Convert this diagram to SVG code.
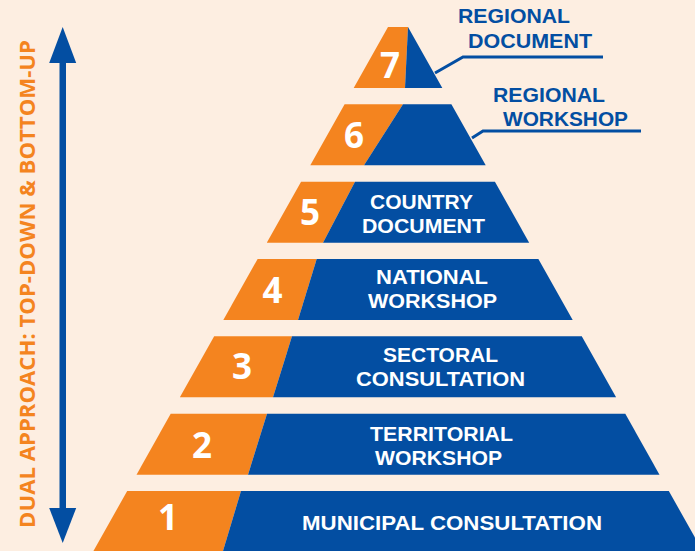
<svg xmlns="http://www.w3.org/2000/svg" width="695" height="551" viewBox="0 0 695 551">
<style>
.o{fill:#F4841F}
.b{fill:#034EA2}
.num{font-family:"Open Sans","DejaVu Sans",sans-serif;font-weight:700;font-size:35px;fill:#fff;text-anchor:middle}
.lbl{font-family:"Liberation Sans","Open Sans",sans-serif;font-weight:700;font-size:20.5px;fill:#fff;text-anchor:middle}
.rl{font-family:"Liberation Sans","Open Sans",sans-serif;font-weight:700;font-size:20.5px;fill:#034EA2;text-anchor:middle}
.side{font-family:"Open Sans","DejaVu Sans",sans-serif;font-weight:700;font-size:21px;fill:#F4841F;text-anchor:middle}
.co{fill:none;stroke:#034EA2;stroke-width:3}
</style>
<rect width="695" height="551" fill="#FDEEE1"/>
<g id="tier7">
<polygon class="o" points="388,27 408,27 405,88 353.7,88"/>
<polygon class="b" points="408,27 442.3,88 405,88"/>
<text class="num" x="390" y="78">7</text>
</g>
<g id="tier6">
<polygon class="o" points="344.6,104.3 403,104.3 364,165.3 310.3,165.3"/>
<polygon class="b" points="403,104.3 451.4,104.3 485.7,165.3 364,165.3"/>
<text class="num" x="354" y="148">6</text>
</g>
<g id="tier5">
<polygon class="o" points="301.1,181.7 355,181.7 323,242.7 266.8,242.7"/>
<polygon class="b" points="355,181.7 494.9,181.7 529.2,242.7 323,242.7"/>
<text class="num" x="310" y="225">5</text>
<text class="lbl" x="421.5" y="209" textLength="103" lengthAdjust="spacingAndGlyphs">COUNTRY</text>
<text class="lbl" x="423.5" y="233" textLength="123" lengthAdjust="spacingAndGlyphs">DOCUMENT</text>
</g>
<g id="tier4">
<polygon class="o" points="257.6,259 316.7,259 298,320 223.3,320"/>
<polygon class="b" points="316.7,259 538.4,259 572.7,320 298,320"/>
<text class="num" x="272.5" y="303">4</text>
<text class="lbl" x="432" y="284" textLength="112" lengthAdjust="spacingAndGlyphs">NATIONAL</text>
<text class="lbl" x="432.5" y="307.5" textLength="129" lengthAdjust="spacingAndGlyphs">WORKSHOP</text>
</g>
<g id="tier3">
<polygon class="o" points="214.2,336.3 292,336.3 273,397.3 179.9,397.3"/>
<polygon class="b" points="292,336.3 581.8,336.3 616.1,397.3 273,397.3"/>
<text class="num" x="242" y="379">3</text>
<text class="lbl" x="440.5" y="362" textLength="115" lengthAdjust="spacingAndGlyphs">SECTORAL</text>
<text class="lbl" x="440.5" y="385.5" textLength="169" lengthAdjust="spacingAndGlyphs">CONSULTATION</text>
</g>
<g id="tier2">
<polygon class="o" points="170.7,413.7 267,413.7 248,474.7 136.5,474.7"/>
<polygon class="b" points="267,413.7 625.3,413.7 659.5,474.7 248,474.7"/>
<text class="num" x="202" y="458">2</text>
<text class="lbl" x="441.5" y="441" textLength="143" lengthAdjust="spacingAndGlyphs">TERRITORIAL</text>
<text class="lbl" x="438.5" y="465" textLength="127" lengthAdjust="spacingAndGlyphs">WORKSHOP</text>
</g>
<g id="tier1">
<polygon class="o" points="127.2,491 241,491 222.7,552 92.9,552"/>
<polygon class="b" points="241,491 668.8,491 703.1,552 222.7,552"/>
<text class="num" x="168" y="530">1</text>
<text class="lbl" x="452" y="530" textLength="300" lengthAdjust="spacingAndGlyphs">MUNICIPAL CONSULTATION</text>
</g>
<g id="regional-document-label">
<text class="rl" x="514" y="23" textLength="112" lengthAdjust="spacingAndGlyphs">REGIONAL</text>
<text class="rl" x="530" y="48" textLength="124" lengthAdjust="spacingAndGlyphs">DOCUMENT</text>
</g>
<g id="regional-workshop-label">
<text class="rl" x="549" y="102" textLength="112" lengthAdjust="spacingAndGlyphs">REGIONAL</text>
<text class="rl" x="565.5" y="126" textLength="125" lengthAdjust="spacingAndGlyphs">WORKSHOP</text>
</g>
<g id="side-label">
<text class="side" transform="translate(35,284) rotate(-90)" textLength="488" lengthAdjust="spacingAndGlyphs">DUAL APPROACH: TOP-DOWN &amp; BOTTOM-UP</text>
</g>
<g id="connectors">
<rect class="b" x="59.5" y="62" width="6.5" height="447"/>
<polygon class="b" points="62.7,27 76.2,63 49.2,63"/>
<polygon class="b" points="62.7,543 76.2,508 49.2,508"/>
<polyline class="co" points="435,73 463,57 603,57"/>
<polyline class="co" points="472,138 483,131 641,131"/>
</g>
</svg>
